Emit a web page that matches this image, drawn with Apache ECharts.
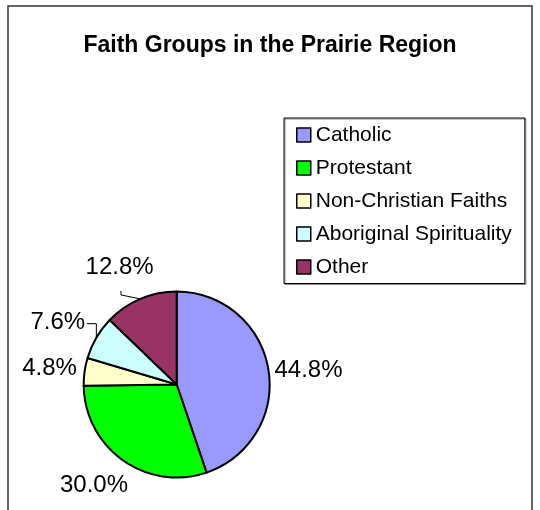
<!DOCTYPE html>
<html>
<head>
<meta charset="utf-8">
<title>Faith Groups in the Prairie Region</title>
<script src="https://cdn.jsdelivr.net/npm/echarts@6/dist/echarts.min.js"></script>
<style>
  html, body { margin: 0; padding: 0; background: #ffffff; }
  #chart { width: 540px; height: 510px; }
</style>
</head>
<body>
<div id="chart"></div>
<script>
// Faith groups and their share of the population, in percent
const categories = ['Catholic', 'Protestant', 'Non-Christian Faiths', 'Aboriginal Spirituality', 'Other'];
const shares = [44.8, 30.0, 4.8, 7.6, 12.8];

const FONT = '"Liberation Sans", Arial, Helvetica, sans-serif';

// Label centre for each slice, relative to the rim point at the slice's middle angle
const labelOffsets = [[40, 1], [-29, 24.5], [-35, -3.5], [-38.5, -15], [-20.7, -31.3]];
// Elbow leader lines for the narrow upper slices, relative to the same rim point
const leaderShapes = {
  3: [[0, 0], [0, -14], [-9.5, -14]],
  4: [[0, 0], [-19.3, -4], [-19.3, -8]]
};

const chart = echarts.init(document.getElementById('chart'), null, { renderer: 'canvas' });

chart.setOption({
  animation: false,
  backgroundColor: '#ffffff',
  color: ['#9999FF', '#00FF00', '#FFFFCC', '#CCFFFF', '#993366'],
  title: {
    text: 'Faith Groups in the Prairie Region',
    left: 'center',
    top: 34,
    padding: 0,
    textStyle: { fontFamily: FONT, fontSize: 23, fontWeight: 'bold', color: '#000000', lineHeight: 23 }
  },
  legend: {
    orient: 'vertical',
    left: 284,
    top: 118,
    padding: [6.5, 13, 6, 12],
    borderColor: '#000000',
    borderWidth: 1,
    shadowColor: 'rgba(0,0,0,0.45)',
    shadowOffsetX: 1,
    shadowOffsetY: 1,
    icon: 'rect',
    itemWidth: 14,
    itemHeight: 14,
    itemGap: 12,
    itemStyle: { borderColor: '#000000', borderWidth: 1.5 },
    textStyle: { fontFamily: FONT, fontSize: 21, lineHeight: 21, color: '#000000' },
    data: categories
  },
  graphic: [{
    type: 'rect',
    silent: true,
    shape: { x: 8, y: 6, width: 524, height: 530 },
    style: { fill: 'none', stroke: '#333333', lineWidth: 1.5 }
  }],
  series: [{
    type: 'pie',
    center: [176.7, 384.5],
    radius: 93,
    startAngle: 90,
    clockwise: true,
    avoidLabelOverlap: false,
    itemStyle: { borderColor: '#000000', borderWidth: 2 },
    emphasis: { disabled: true },
    label: {
      show: true,
      position: 'outside',
      fontFamily: FONT,
      fontSize: 24,
      color: '#000000',
      formatter: p => p.value.toFixed(1) + '%'
    },
    labelLine: {
      show: true,
      length: 10,
      length2: 5,
      lineStyle: { color: '#000000', width: 1 }
    },
    labelLayout: function (p) {
      const anchor = p.labelLinePoints ? p.labelLinePoints[0] : null;
      if (!anchor) return {};
      const off = labelOffsets[p.dataIndex];
      const shape = leaderShapes[p.dataIndex];
      const pts = shape
        ? shape.map(s => [anchor[0] + s[0], anchor[1] + s[1]])
        : [anchor.slice(), anchor.slice(), anchor.slice()];
      return {
        x: anchor[0] + off[0],
        y: anchor[1] + off[1],
        align: 'center',
        verticalAlign: 'middle',
        labelLinePoints: pts
      };
    },
    data: categories.map((name, i) => ({ name: name, value: shares[i] }))
  }]
});
</script>
</body>
</html>
